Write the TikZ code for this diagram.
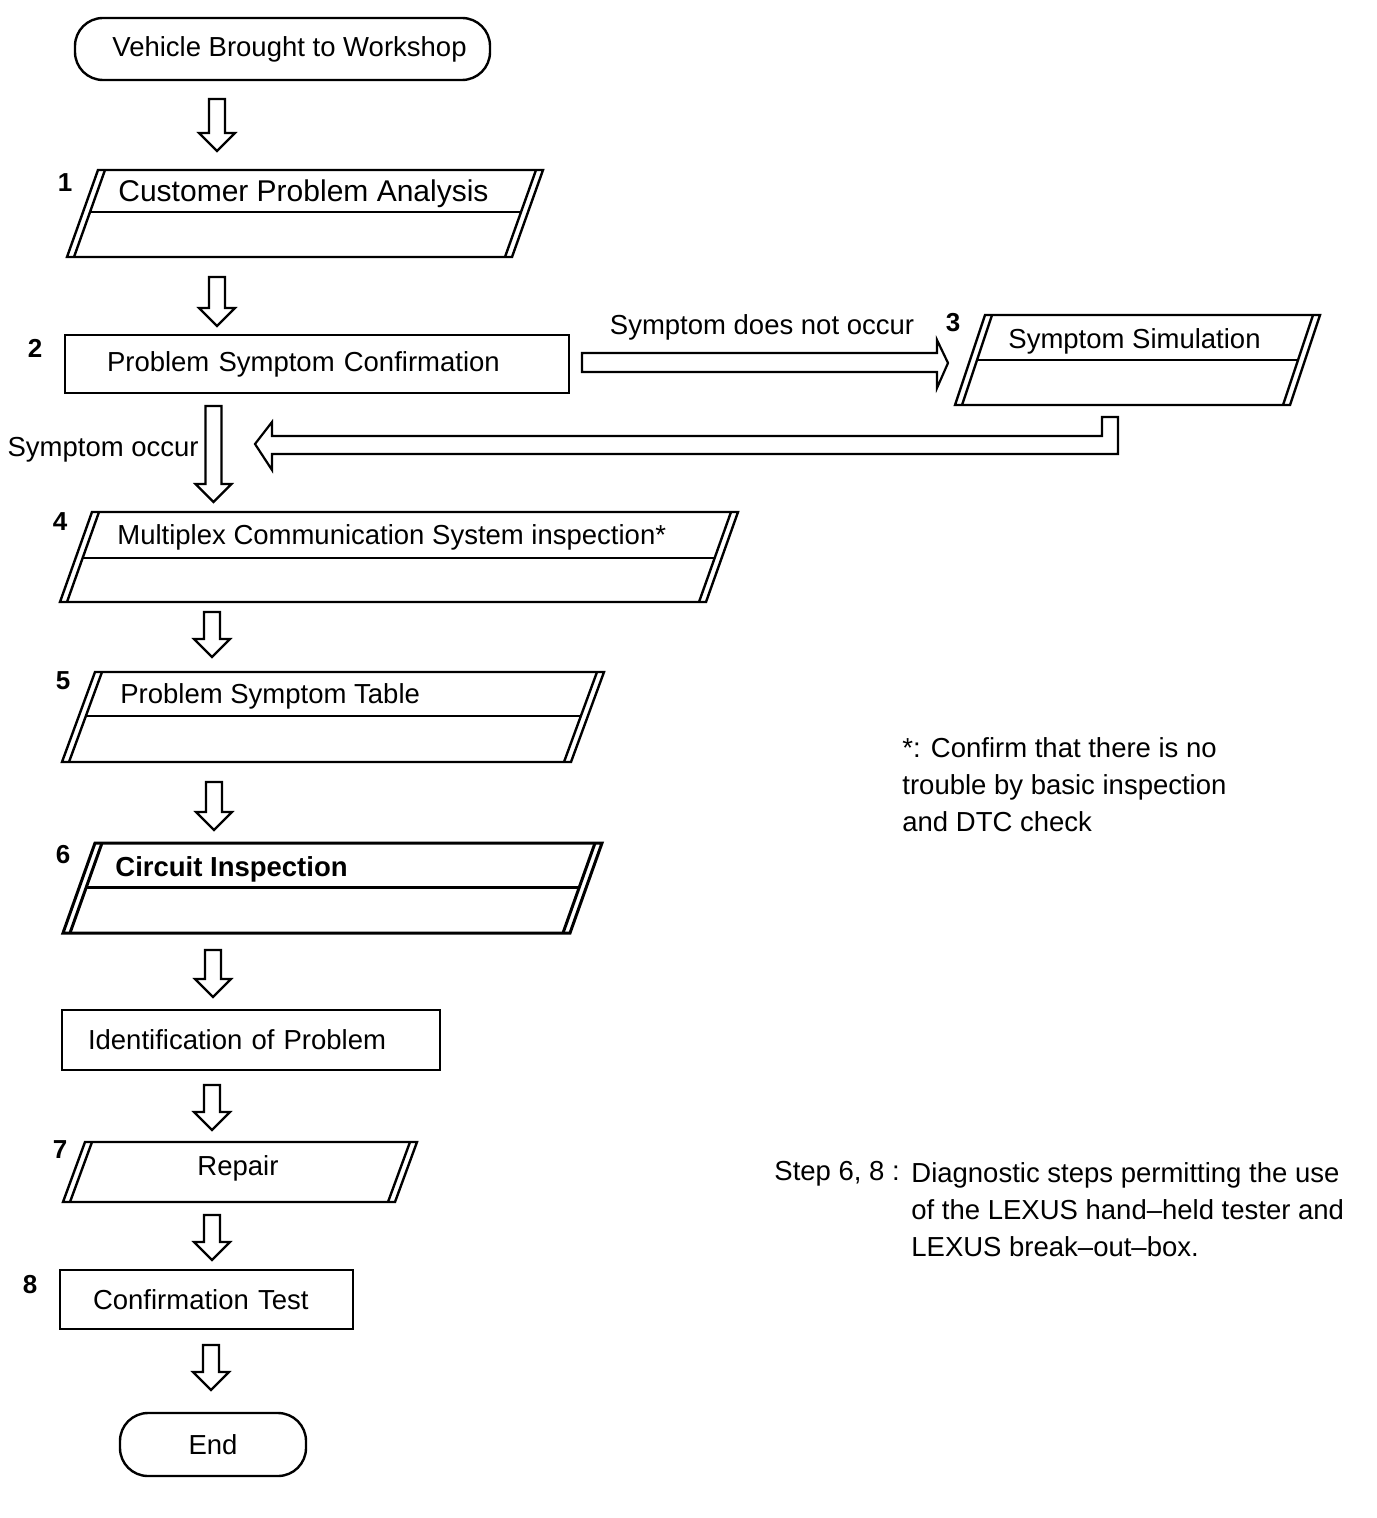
\documentclass[tikz,border=0pt]{standalone}
\usepackage{fontspec}
\setmainfont{Liberation Sans}
\usetikzlibrary{calc}
\tikzset{
  boxline/.style={draw=black, line width=1.2pt, line join=miter},
  thickbox/.style={draw=black, line width=1.5pt, line join=miter},
  arrline/.style={draw=black, fill=white, line width=1.1pt, line join=miter},
  txt/.style={inner sep=0pt, font=\fontsize{13.75}{18.5}\selectfont},
  num/.style={inner sep=0pt, font=\fontsize{13}{15}\selectfont\bfseries},
  rectbox/.style={draw=black, line width=1.2pt, align=left, inner ysep=0pt, font=\fontsize{13.75}{18.5}\selectfont},
  term/.style={draw=black, line width=1.2pt, rounded corners=14pt, inner sep=0pt, font=\fontsize{13.75}{18.5}\selectfont}
}
% parallelogram with doubled slanted edges: #1 name, #2 xTL, #3 xTR, #4 yT, #5 yB, #6 slant, #7 style
\newcommand{\pbox}[7]{%
  \coordinate (#1-tl) at (#2,#4);
  \coordinate (#1-tr) at (#3,#4);
  \coordinate (#1-br) at ({#3-#6},#5);
  \coordinate (#1-bl) at ({#2-#6},#5);
  \draw[#7] (#1-tl) -- (#1-tr) -- (#1-br) -- (#1-bl) -- cycle;
  \draw[#7] ({#2+7},#4) -- ({#2-#6+7},#5);
  \draw[#7] ({#3-7},#4) -- ({#3-#6-7},#5);
}
% middle line: #1 xTL, #2 xTR, #3 yT, #4 yB, #5 slant, #6 yMid, #7 style
\newcommand{\pmid}[7]{%
  \draw[#7] ({#1+7-#5*(#6-#3)/(#4-#3)},#6) -- ({#2-7-#5*(#6-#3)/(#4-#3)},#6);
}
% hollow down arrow: #1 x, #2 ytop, #3 ytip
\newcommand{\hdown}[3]{%
  \draw[arrline] ({#1-8},#2) -- ({#1+8},#2) -- ({#1+8},{#3-18}) -- ({#1+18},{#3-18})
    -- (#1,#3) -- ({#1-18},{#3-18}) -- ({#1-8},{#3-18}) -- cycle;
}
\begin{document}
\begin{tikzpicture}[x=0.5pt,y=-0.5pt]
\useasboundingbox (0,0) rectangle (1376,1518);

% start terminal
\node[term, minimum width=207.5pt, minimum height=31pt] (start) at (282.5,49) {\hspace*{7pt}Vehicle Brought to Workshop};

\hdown{217}{99}{151}

% 1
\pbox{p1}{98}{543}{170}{257}{31}{boxline}
\pmid{98}{543}{170}{257}{31}{212}{boxline}
\node[txt, anchor=west, font=\fontsize{15}{18}\selectfont] (t1) at (118,194) {Customer Problem Analysis};
\node[num] (n1) at (65,183) {1};

\hdown{217}{277}{326}

% 2
\node[rectbox, minimum height=29pt, text width=210pt, inner xsep=21pt] (b2) at (317,364) {Problem Symptom Confirmation};
\node[num] (n2) at (35,348) {2};

% horizontal arrow to 3
\draw[arrline] (582,353) -- (937,353) -- (937,340) -- (948,363) -- (937,388) -- (937,372) -- (582,372) -- cycle;
\node[txt] (lno) at (762,327) {Symptom does not occur};

% 3
\pbox{p3}{985}{1320}{315}{405}{30}{boxline}
\pmid{985}{1320}{315}{405}{30}{360}{boxline}
\node[txt, anchor=west] (t3) at (1008,341) {Symptom Simulation};
\node[num] (n3) at (953,323) {3};

% return arrow
\draw[arrline] (1102,436) -- (1102,417) -- (1118,417) -- (1118,454) -- (272,454) -- (272,470)
  -- (255,444) -- (272,422) -- (272,436) -- cycle;

% down arrow (symptom occur)
\hdown{213.5}{406}{502}
\node[txt, anchor=east] (lyes) at (199,450) {Symptom occur};

% 4
\pbox{p4}{92}{738}{512}{602}{32}{boxline}
\pmid{92}{738}{512}{602}{32}{558}{boxline}
\node[txt, anchor=west] (t4) at (117,537) {Multiplex Communication System inspection*};
\node[num] (n4) at (60,522) {4};

\hdown{212}{612}{657}

% 5
\pbox{p5}{95}{604}{672}{762}{33}{boxline}
\pmid{95}{604}{672}{762}{33}{716}{boxline}
\node[txt, anchor=west] (t5) at (120,696) {Problem Symptom Table};
\node[num] (n5) at (63,681) {5};

\hdown{214}{782}{830}

% 6
\pbox{p6}{95}{602}{843}{933}{32}{thickbox}
\pmid{95}{602}{843}{933}{32}{887}{thickbox}
\node[txt, anchor=west, font=\fontsize{13.75}{18.5}\selectfont\bfseries] (t6) at (115,869) {Circuit Inspection};
\node[num] (n6) at (63,855) {6};

\hdown{213}{950}{997}

% identification
\node[rectbox, minimum height=30pt, text width=163pt, inner xsep=13pt] (bid) at (251,1040) {Identification of Problem};

\hdown{212}{1085}{1130}

% 7
\pbox{p7}{85}{417}{1142}{1202}{22}{boxline}
\node[txt] (t7) at (238,1168) {Repair};
\node[num] (n7) at (60,1150) {7};

\hdown{212}{1215}{1260}

% 8
\node[rectbox, minimum height=29.5pt, text width=113.5pt, inner xsep=16.5pt] (b8) at (206.5,1299.5) {Confirmation Test};
\node[num] (n8) at (30,1285) {8};

\hdown{211}{1345}{1390}

% end terminal
\node[term, minimum width=93pt, minimum height=31.5pt] (end) at (213,1444.5) {End};

% notes
\node[txt, anchor=west, align=left] (note1) at (902,785) {*: Confirm that there is no\\trouble by basic inspection\\and DTC check};
\node[txt, anchor=west] (note2a) at (774,1174) {Step 6, 8 :};
\node[txt, anchor=north west, align=left] (note2b) at (911,1162) {Diagnostic steps permitting the use\\of the LEXUS hand–held tester and\\LEXUS break–out–box.};
\end{tikzpicture}
\end{document}
